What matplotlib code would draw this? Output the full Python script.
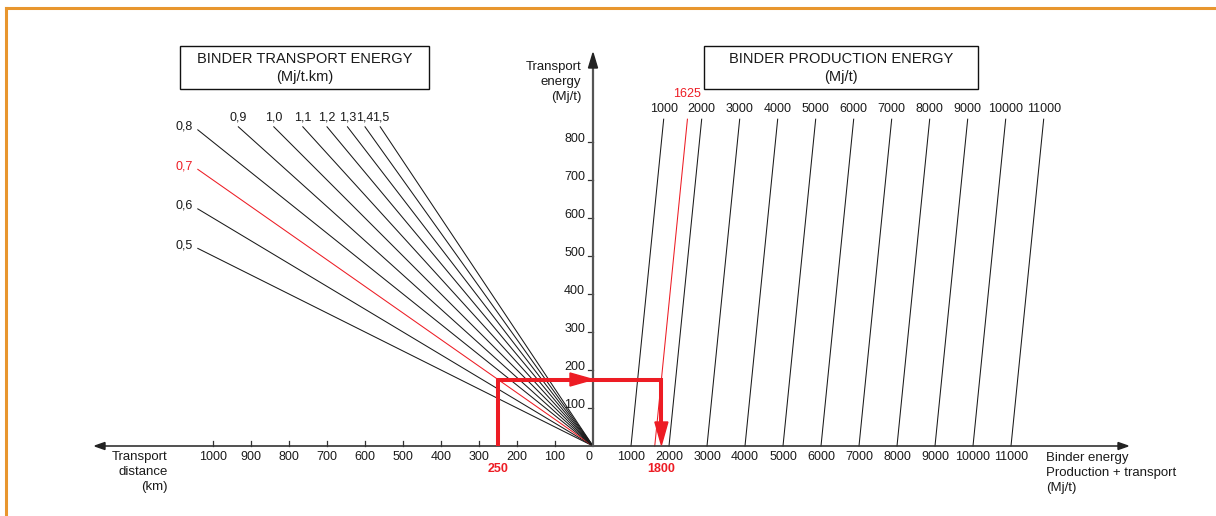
import matplotlib
matplotlib.use('Agg')
import matplotlib.pyplot as plt
from matplotlib.patches import Polygon, Rectangle
from matplotlib.lines import Line2D

plt.rcParams['font.family'] = ['Liberation Sans', 'DejaVu Sans']

# transport energy per t.km (left fan)
coefs = [0.5, 0.6, 0.7, 0.8, 0.9, 1.0, 1.1, 1.2, 1.3, 1.4, 1.5]
coef_labels = ['0,5', '0,6', '0,7', '0,8', '0,9', '1,0', '1,1', '1,2', '1,3', '1,4', '1,5']
# binder production energy (right lines)
production = [1000, 2000, 3000, 4000, 5000, 6000, 7000, 8000, 9000, 10000, 11000]
dist_ticks = [0, 100, 200, 300, 400, 500, 600, 700, 800, 900, 1000]
binder_ticks = [1000, 2000, 3000, 4000, 5000, 6000, 7000, 8000, 9000, 10000, 11000]
transport_ticks = [100, 200, 300, 400, 500, 600, 700, 800]

max_dist = 1040        # km, end of the fan lines
max_transport = 840    # Mj/t, top of the fan lines
prod_top = 860         # Mj/t, top of the production lines

# worked example
ex_dist = 250
ex_coef = 0.7
ex_prod = 1625

RED = '#ED1C24'
ORANGE = '#E8962E'
INK = '#1a1a1a'

W, H = 1216, 516
OX, OY, U = 593, 446, 38.0   # origin pixel, pixels per unit


def xl(d):   # km -> axis units (to the left)
    return -d / 100.0


def xr(b):   # Mj/t on the binder axis -> axis units
    return b / 1000.0


def yt(t):   # transport energy Mj/t -> axis units
    return t / 100.0


def P(x, y):  # pixel -> data, for placing annotations
    return (x - OX) / U, (OY - y) / U


fig = plt.figure(figsize=(W / 100, H / 100), dpi=100)
ax = fig.add_axes([0, 0, 1, 1])
ax.set_xlim(-OX / U, (W - OX) / U)
ax.set_ylim((OY - H) / U, OY / U)
ax.axis('off')

# left fan: transport energy = coef * distance
for k, lab in zip(coefs, coef_labels):
    d_end = min(max_dist, max_transport / k)
    col = RED if k == ex_coef else INK
    ax.plot([0, xl(d_end)], [0, yt(k * d_end)], color=col, lw=0.75)
    if k <= 0.8:
        ax.text(xl(d_end) - 5 / U, yt(k * d_end) + 3 / U, lab, ha='right', va='center',
                fontsize=9, color=col)
    else:
        ax.text(xl(d_end), P(0, 118)[1], lab, ha='center', va='center', fontsize=9, color=col)

# right lines: binder energy = production + transport
for p in production + [ex_prod]:
    col = RED if p == ex_prod else INK
    ax.plot([xr(p), xr(p + prod_top)], [0, yt(prod_top)], color=col, lw=0.75)
    if p == ex_prod:
        ax.text(xr(p + prod_top), P(0, 94)[1], str(p), ha='center', va='center',
                fontsize=9, color=RED)
    else:
        ax.text(xr(p + prod_top), P(0, 109)[1], str(p), ha='center', va='center',
                fontsize=9, color=INK)

# axes
xl_tip = P(95, 0)[0]
xr_tip = P(1128, 0)[0]
y_tip = P(0, 53)[1]
ax.plot([xl_tip + 0.2, xr_tip - 0.2], [0, 0], color='#333333', lw=1.2, zorder=3)
ax.plot([0, 0], [0, y_tip - 0.3], color='#555555', lw=1.6, zorder=3)
ah, aw = 10 / U, 3.5 / U
ax.add_patch(Polygon([[xl_tip, 0], [xl_tip + ah, aw], [xl_tip + ah, -aw]], closed=True,
                     color='#222222', zorder=3))
ax.add_patch(Polygon([[xr_tip, 0], [xr_tip - ah, aw], [xr_tip - ah, -aw]], closed=True,
                     color='#222222', zorder=3))
ax.add_patch(Polygon([[0, y_tip], [4.5 / U, y_tip - 15 / U], [-4.5 / U, y_tip - 15 / U]],
                     closed=True, color='#222222', zorder=3))

# ticks and tick labels
tick_y = P(0, 457)[1]
for d in dist_ticks:
    if d > 0:
        ax.plot([xl(d), xl(d)], [0, 5 / U], color='#333333', lw=0.9)
    ax.text(xl(d) - (0.1 if d == 0 else 0), tick_y, str(d), ha='center', va='center',
            fontsize=9, color=INK)
for b in binder_ticks:
    ax.text(xr(b), tick_y, str(b), ha='center', va='center', fontsize=9, color=INK)
for t in transport_ticks:
    ax.plot([-5 / U, 0], [yt(t), yt(t)], color='#333333', lw=0.9)
    ax.text(-8 / U, yt(t) + 3 / U, str(t), ha='right', va='center', fontsize=9, color=INK)

# worked example path
ex_t = ex_coef * ex_dist
ex_b = ex_prod + ex_t
ax.plot([xl(ex_dist), xl(ex_dist), xr(ex_b), xr(ex_b)], [0, yt(ex_t), yt(ex_t), 23 / U],
        color=RED, lw=2.9, solid_joinstyle='miter', solid_capstyle='butt', zorder=4)
L, hw = 23 / U, 6.5 / U
ax.add_patch(Polygon([[0, yt(ex_t)], [-L, yt(ex_t) + hw], [-L, yt(ex_t) - hw]], closed=True,
                     color=RED, zorder=5))
ax.add_patch(Polygon([[xr(ex_b), 1 / U], [xr(ex_b) - hw, L + 1 / U], [xr(ex_b) + hw, L + 1 / U]],
                     closed=True, color=RED, zorder=5))
ax.text(xl(ex_dist), P(0, 469.5)[1], str(ex_dist), ha='center', va='center', fontsize=9,
        fontweight='bold', color=RED)
ax.text(xr(ex_b), P(0, 469.5)[1], '%d' % ex_b, ha='center', va='center', fontsize=9,
        fontweight='bold', color=RED)

# title boxes
for (x0, x1), title, unit in [((180, 429), 'BINDER TRANSPORT ENERGY', '(Mj/t.km)'),
                              ((704, 978), 'BINDER PRODUCTION ENERGY', '(Mj/t)')]:
    a = P(x0, 89.3)
    b = P(x1, 45.7)
    ax.add_patch(Rectangle(a, b[0] - a[0], b[1] - a[1], fill=False, ec='#111111', lw=1.0))
    cx = (a[0] + b[0]) / 2
    ax.text(cx, P(0, 59.3)[1], title, ha='center', va='center', fontsize=10.5, color=INK)
    ax.text(cx, P(0, 77.3)[1], unit, ha='center', va='center', fontsize=10.5, color=INK)

# axis titles
ax.text(*P(581, 82), 'Transport\nenergy\n(Mj/t)', ha='right', va='center',
        multialignment='right', fontsize=9.5, color=INK, linespacing=1.3)
ax.text(*P(168, 472), 'Transport\ndistance\n(km)', ha='right', va='center',
        multialignment='right', fontsize=9.5, color=INK, linespacing=1.3)
ax.text(*P(1046, 473), 'Binder energy\nProduction + transport\n(Mj/t)', ha='left', va='center',
        multialignment='left', fontsize=9.5, color=INK, linespacing=1.3)

# orange frame
fig.add_artist(Line2D([6 / W, 1], [1 - 8 / H, 1 - 8 / H], transform=fig.transFigure,
                      color=ORANGE, lw=2.2))
fig.add_artist(Line2D([6 / W, 6 / W], [0, 1 - 8 / H], transform=fig.transFigure,
                      color=ORANGE, lw=2.2))

fig.savefig('out.png', dpi=100)
